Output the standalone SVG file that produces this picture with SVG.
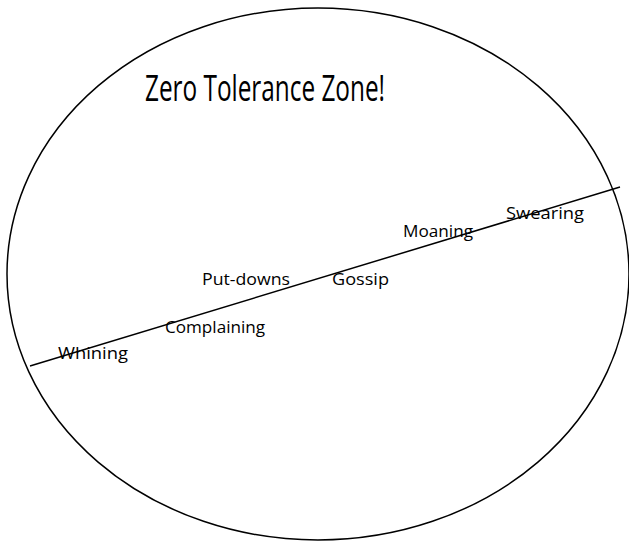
<svg xmlns="http://www.w3.org/2000/svg" width="629" height="544" viewBox="0 0 629 544">
<style>
  .shape { fill: none; stroke: #000; stroke-width: 1.5; }
  .t { font-family: "Comic Sans MS", "Open Sans", "DejaVu Sans", sans-serif; fill: #000; }
  .lbl { font-size: 16px; }
  .title { font-size: 37px; }
</style>
<rect width="629" height="544" fill="#fff"/>
<g id="zone">
  <ellipse class="shape" cx="318" cy="274" rx="311" ry="266"/>
  <text class="t title" x="145" y="101" textLength="240" lengthAdjust="spacingAndGlyphs">Zero Tolerance Zone!</text>
</g>
<g id="connectors">
  <line class="shape" x1="30" y1="366" x2="620" y2="187"/>
</g>
<g id="whining"><text class="t lbl" x="58" y="359" textLength="70" lengthAdjust="spacingAndGlyphs">Whining</text></g>
<g id="complaining"><text class="t lbl" x="165" y="333" textLength="100" lengthAdjust="spacingAndGlyphs">Complaining</text></g>
<g id="putdowns"><text class="t lbl" x="202" y="285" textLength="88" lengthAdjust="spacingAndGlyphs">Put-downs</text></g>
<g id="gossip"><text class="t lbl" x="332" y="285" textLength="57" lengthAdjust="spacingAndGlyphs">Gossip</text></g>
<g id="moaning"><text class="t lbl" x="403" y="237" textLength="70" lengthAdjust="spacingAndGlyphs">Moaning</text></g>
<g id="swearing"><text class="t lbl" x="506" y="219" textLength="78" lengthAdjust="spacingAndGlyphs">Swearing</text></g>
</svg>
